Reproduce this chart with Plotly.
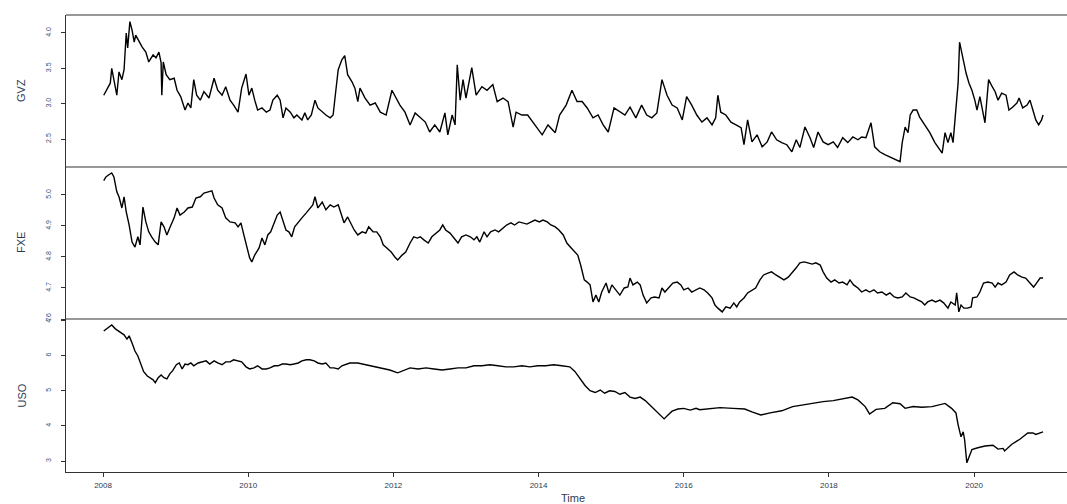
import plotly.graph_objects as go
from plotly.subplots import make_subplots

# ---------------- data ----------------
gvz_t = [2008.01, 2008.06, 2008.10, 2008.12, 2008.17, 2008.19, 2008.22, 2008.26, 2008.29, 2008.32,
         2008.34, 2008.37, 2008.40, 2008.43, 2008.45, 2008.50, 2008.54, 2008.59, 2008.63, 2008.69,
         2008.73, 2008.77, 2008.80, 2008.81, 2008.83, 2008.87, 2008.92, 2008.98, 2009.02, 2009.07,
         2009.13, 2009.17, 2009.21, 2009.25, 2009.29, 2009.34, 2009.39, 2009.46, 2009.53, 2009.58,
         2009.64, 2009.69, 2009.75, 2009.80, 2009.86, 2009.91, 2009.97, 2010.01, 2010.05, 2010.09,
         2010.13, 2010.19, 2010.25, 2010.30, 2010.34, 2010.40, 2010.44, 2010.48, 2010.52, 2010.58,
         2010.63, 2010.67, 2010.74, 2010.78, 2010.82, 2010.87, 2010.92, 2010.96, 2011.02, 2011.07,
         2011.13, 2011.17, 2011.20, 2011.24, 2011.29, 2011.33, 2011.37, 2011.43, 2011.47, 2011.51,
         2011.54, 2011.61, 2011.68, 2011.75, 2011.82, 2011.90, 2011.98, 2012.04, 2012.09, 2012.16,
         2012.23, 2012.30, 2012.37, 2012.44, 2012.50, 2012.57, 2012.64, 2012.71, 2012.75, 2012.81,
         2012.85, 2012.88, 2012.92, 2012.96, 2013.00, 2013.08, 2013.14, 2013.22, 2013.29, 2013.37,
         2013.43, 2013.51, 2013.58, 2013.65, 2013.69, 2013.77, 2013.85, 2013.95, 2014.05, 2014.13,
         2014.23, 2014.29, 2014.38, 2014.46, 2014.53, 2014.60, 2014.67, 2014.75, 2014.82, 2014.89,
         2014.96, 2015.04, 2015.12, 2015.19, 2015.26, 2015.34, 2015.42, 2015.49, 2015.56, 2015.63,
         2015.70, 2015.77, 2015.84, 2015.91, 2015.98, 2016.04, 2016.11, 2016.18, 2016.25, 2016.32,
         2016.39, 2016.44, 2016.47, 2016.51, 2016.58, 2016.65, 2016.72, 2016.79, 2016.83, 2016.88,
         2016.94, 2017.01, 2017.08, 2017.15, 2017.21, 2017.28, 2017.35, 2017.42, 2017.49, 2017.55,
         2017.60, 2017.67, 2017.74, 2017.79, 2017.85, 2017.92, 2017.99, 2018.06, 2018.12, 2018.19,
         2018.26, 2018.33, 2018.40, 2018.45, 2018.51, 2018.58, 2018.63, 2018.70, 2018.77, 2018.84,
         2018.91, 2018.98, 2019.01, 2019.05, 2019.09, 2019.12, 2019.16, 2019.21, 2019.25, 2019.32,
         2019.39, 2019.46, 2019.56, 2019.60, 2019.64, 2019.68, 2019.71, 2019.74, 2019.78, 2019.80,
         2019.85, 2019.89, 2019.93, 2019.97, 2020.01, 2020.04, 2020.08, 2020.12, 2020.15, 2020.18,
         2020.20, 2020.25, 2020.29, 2020.33, 2020.38, 2020.44, 2020.48, 2020.53, 2020.59, 2020.62,
         2020.67, 2020.73, 2020.77, 2020.81, 2020.85, 2020.89, 2020.93, 2020.95]
gvz_v = [3.12, 3.22, 3.29, 3.50, 3.22, 3.12, 3.45, 3.34, 3.48, 4.00,
         3.79, 4.16, 4.04, 3.87, 3.97, 3.87, 3.80, 3.73, 3.59, 3.69,
         3.65, 3.73, 3.58, 3.12, 3.59, 3.41, 3.34, 3.36, 3.19, 3.10,
         2.91, 3.01, 2.94, 3.34, 3.12, 3.05, 3.17, 3.08, 3.36, 3.19,
         3.12, 3.24, 3.05, 2.98, 2.88, 3.22, 3.42, 3.12, 3.22, 3.05,
         2.91, 2.94, 2.88, 2.91, 3.05, 3.12, 3.05, 2.80, 2.94, 2.88,
         2.80, 2.84, 2.77, 2.87, 2.77, 2.84, 3.05, 2.94, 2.88, 2.84,
         2.80, 2.84, 3.12, 3.48, 3.62, 3.68, 3.41, 3.31, 3.22, 3.03,
         3.22, 3.08, 2.98, 3.01, 2.88, 2.84, 3.19, 3.08, 2.98, 2.88,
         2.70, 2.87, 2.80, 2.74, 2.60, 2.70, 2.60, 2.87, 2.56, 2.84,
         2.70, 3.55, 3.05, 3.34, 3.08, 3.51, 3.12, 3.24, 3.19, 3.27,
         3.03, 3.08, 3.03, 2.67, 2.88, 2.84, 2.84, 2.70, 2.56, 2.70,
         2.59, 2.84, 2.98, 3.19, 3.03, 3.03, 2.94, 2.80, 2.84, 2.70,
         2.60, 2.94, 2.88, 2.84, 2.95, 2.80, 2.98, 2.84, 2.80, 2.87,
         3.34, 3.12, 2.98, 2.94, 2.77, 3.10, 2.98, 2.84, 2.74, 2.80,
         2.70, 2.80, 3.12, 2.88, 2.84, 2.74, 2.70, 2.66, 2.42, 2.77,
         2.46, 2.56, 2.39, 2.46, 2.60, 2.49, 2.45, 2.42, 2.32, 2.49,
         2.38, 2.67, 2.52, 2.38, 2.60, 2.46, 2.42, 2.46, 2.38, 2.52,
         2.45, 2.53, 2.49, 2.53, 2.52, 2.73, 2.39, 2.32, 2.28, 2.25,
         2.21, 2.18, 2.45, 2.67, 2.59, 2.84, 2.91, 2.91, 2.81, 2.70,
         2.59, 2.45, 2.30, 2.59, 2.45, 2.59, 2.45, 2.81, 3.29, 3.87,
         3.62, 3.43, 3.29, 3.19, 3.05, 2.91, 3.10, 2.91, 2.73, 3.10,
         3.34, 3.24, 3.17, 3.05, 3.15, 3.12, 2.91, 2.95, 3.01, 3.08,
         2.94, 2.98, 3.05, 2.91, 2.77, 2.70, 2.77, 2.84]

fxe_t = [2008.01, 2008.04, 2008.08, 2008.12, 2008.15, 2008.19, 2008.22, 2008.26, 2008.29, 2008.32,
         2008.36, 2008.40, 2008.44, 2008.48, 2008.51, 2008.55, 2008.59, 2008.63, 2008.67, 2008.72,
         2008.76, 2008.80, 2008.84, 2008.88, 2008.92, 2008.98, 2009.02, 2009.06, 2009.12, 2009.17,
         2009.23, 2009.28, 2009.34, 2009.39, 2009.45, 2009.50, 2009.53, 2009.58, 2009.64, 2009.69,
         2009.75, 2009.82, 2009.86, 2009.90, 2009.94, 2009.98, 2010.02, 2010.05, 2010.09, 2010.15,
         2010.19, 2010.23, 2010.27, 2010.31, 2010.36, 2010.40, 2010.44, 2010.48, 2010.52, 2010.56,
         2010.60, 2010.64, 2010.69, 2010.74, 2010.80, 2010.85, 2010.89, 2010.92, 2010.96, 2011.02,
         2011.07, 2011.13, 2011.18, 2011.24, 2011.28, 2011.32, 2011.37, 2011.42, 2011.46, 2011.51,
         2011.57, 2011.62, 2011.66, 2011.72, 2011.77, 2011.82, 2011.86, 2011.91, 2011.97, 2012.02,
         2012.06, 2012.12, 2012.17, 2012.23, 2012.28, 2012.33, 2012.37, 2012.42, 2012.48, 2012.53,
         2012.59, 2012.64, 2012.68, 2012.72, 2012.78, 2012.83, 2012.89, 2012.94, 2013.00, 2013.06,
         2013.11, 2013.15, 2013.19, 2013.25, 2013.29, 2013.34, 2013.40, 2013.45, 2013.51, 2013.56,
         2013.62, 2013.67, 2013.73, 2013.79, 2013.84, 2013.90, 2013.95, 2014.01, 2014.06, 2014.12,
         2014.17, 2014.23, 2014.28, 2014.34, 2014.39, 2014.45, 2014.50, 2014.54, 2014.58, 2014.63,
         2014.67, 2014.71, 2014.75, 2014.79, 2014.83, 2014.87, 2014.93, 2014.97, 2015.01, 2015.07,
         2015.12, 2015.18, 2015.23, 2015.26, 2015.30, 2015.36, 2015.40, 2015.44, 2015.49, 2015.55,
         2015.60, 2015.66, 2015.70, 2015.74, 2015.80, 2015.85, 2015.91, 2015.96, 2016.00, 2016.06,
         2016.11, 2016.17, 2016.22, 2016.28, 2016.33, 2016.39, 2016.43, 2016.47, 2016.53, 2016.58,
         2016.64, 2016.69, 2016.73, 2016.77, 2016.83, 2016.88, 2016.94, 2016.99, 2017.05, 2017.10,
         2017.16, 2017.21, 2017.27, 2017.33, 2017.38, 2017.44, 2017.49, 2017.55, 2017.60, 2017.66,
         2017.71, 2017.77, 2017.82, 2017.88, 2017.92, 2017.97, 2018.03, 2018.08, 2018.14, 2018.19,
         2018.25, 2018.29, 2018.34, 2018.40, 2018.45, 2018.51, 2018.56, 2018.62, 2018.67, 2018.73,
         2018.79, 2018.84, 2018.90, 2018.95, 2019.01, 2019.06, 2019.12, 2019.17, 2019.23, 2019.28,
         2019.32, 2019.36, 2019.42, 2019.47, 2019.53, 2019.58, 2019.64, 2019.68, 2019.74, 2019.76,
         2019.79, 2019.82, 2019.86, 2019.91, 2019.96, 2019.98, 2020.04, 2020.08, 2020.13, 2020.19,
         2020.25, 2020.29, 2020.33, 2020.38, 2020.44, 2020.49, 2020.55, 2020.60, 2020.66, 2020.71,
         2020.77, 2020.82, 2020.87, 2020.91, 2020.95]
fxe_v = [5.046, 5.058, 5.065, 5.071, 5.058, 5.010, 4.994, 4.958, 4.994, 4.945,
         4.903, 4.848, 4.832, 4.865, 4.839, 4.961, 4.913, 4.881, 4.865, 4.848,
         4.839, 4.913, 4.897, 4.871, 4.894, 4.926, 4.958, 4.935, 4.945, 4.958,
         4.961, 4.990, 4.994, 5.006, 5.010, 5.013, 4.990, 4.968, 4.958, 4.926,
         4.913, 4.910, 4.897, 4.910, 4.871, 4.829, 4.797, 4.784, 4.806, 4.829,
         4.861, 4.839, 4.871, 4.881, 4.910, 4.935, 4.945, 4.919, 4.887, 4.881,
         4.865, 4.897, 4.913, 4.926, 4.942, 4.958, 4.968, 4.994, 4.958, 4.977,
         4.952, 4.968, 4.961, 4.968, 4.942, 4.910, 4.929, 4.903, 4.887, 4.871,
         4.881, 4.877, 4.897, 4.881, 4.881, 4.865, 4.839, 4.829, 4.816, 4.800,
         4.790, 4.806, 4.816, 4.845, 4.865, 4.861, 4.865, 4.855, 4.845, 4.865,
         4.877, 4.887, 4.903, 4.887, 4.877, 4.861, 4.845, 4.865, 4.871, 4.865,
         4.855, 4.865, 4.848, 4.881, 4.865, 4.881, 4.887, 4.881, 4.894, 4.903,
         4.910, 4.903, 4.913, 4.910, 4.906, 4.913, 4.919, 4.913, 4.919, 4.913,
         4.903, 4.897, 4.887, 4.871, 4.845, 4.829, 4.816, 4.806, 4.774, 4.726,
         4.719, 4.710, 4.655, 4.677, 4.655, 4.687, 4.716, 4.684, 4.710, 4.694,
         4.677, 4.700, 4.703, 4.732, 4.710, 4.719, 4.710, 4.677, 4.652, 4.668,
         4.671, 4.668, 4.700, 4.687, 4.703, 4.716, 4.719, 4.710, 4.694, 4.700,
         4.687, 4.694, 4.700, 4.694, 4.684, 4.668, 4.645, 4.635, 4.623, 4.639,
         4.635, 4.652, 4.639, 4.655, 4.668, 4.684, 4.694, 4.700, 4.726, 4.742,
         4.748, 4.752, 4.742, 4.732, 4.726, 4.735, 4.748, 4.765, 4.781, 4.784,
         4.781, 4.777, 4.781, 4.774, 4.752, 4.732, 4.719, 4.726, 4.716, 4.719,
         4.710, 4.726, 4.710, 4.700, 4.687, 4.694, 4.687, 4.694, 4.684, 4.687,
         4.677, 4.684, 4.671, 4.668, 4.671, 4.684, 4.671, 4.668, 4.661, 4.655,
         4.645, 4.655, 4.661, 4.655, 4.661, 4.652, 4.635, 4.655, 4.645, 4.684,
         4.623, 4.645, 4.635, 4.635, 4.639, 4.668, 4.671, 4.687, 4.716, 4.719,
         4.716, 4.703, 4.716, 4.710, 4.719, 4.742, 4.752, 4.742, 4.735, 4.732,
         4.716, 4.703, 4.719, 4.732, 4.732]

uso_t = [2008.01, 2008.06, 2008.10, 2008.12, 2008.17, 2008.21, 2008.25, 2008.29, 2008.33, 2008.36,
         2008.40, 2008.44, 2008.48, 2008.52, 2008.56, 2008.61, 2008.65, 2008.69, 2008.72, 2008.76,
         2008.80, 2008.84, 2008.88, 2008.92, 2008.96, 2009.01, 2009.05, 2009.09, 2009.13, 2009.17,
         2009.21, 2009.25, 2009.31, 2009.36, 2009.42, 2009.47, 2009.53, 2009.58, 2009.64, 2009.69,
         2009.75, 2009.80, 2009.86, 2009.91, 2009.97, 2010.02, 2010.08, 2010.13, 2010.19, 2010.25,
         2010.30, 2010.36, 2010.41, 2010.47, 2010.52, 2010.58, 2010.63, 2010.69, 2010.74, 2010.80,
         2010.85, 2010.91, 2010.96, 2011.02, 2011.07, 2011.13, 2011.18, 2011.24, 2011.29, 2011.35,
         2011.40, 2011.51, 2011.62, 2011.73, 2011.84, 2011.95, 2012.06, 2012.15, 2012.23, 2012.34,
         2012.45, 2012.56, 2012.67, 2012.78, 2012.89, 2013.00, 2013.11, 2013.22, 2013.33, 2013.44,
         2013.55, 2013.66, 2013.77, 2013.88, 2013.99, 2014.10, 2014.21, 2014.32, 2014.43, 2014.50,
         2014.57, 2014.64, 2014.71, 2014.78, 2014.85, 2014.91, 2014.98, 2015.05, 2015.12, 2015.19,
         2015.26, 2015.33, 2015.40, 2015.47, 2015.53, 2015.60, 2015.67, 2015.73, 2015.78, 2015.84,
         2015.92, 2016.00, 2016.09, 2016.17, 2016.22, 2016.36, 2016.50, 2016.68, 2016.84, 2016.94,
         2017.06, 2017.19, 2017.35, 2017.50, 2017.64, 2017.78, 2017.92, 2018.06, 2018.22, 2018.32,
         2018.40, 2018.50, 2018.56, 2018.65, 2018.77, 2018.88, 2018.98, 2019.05, 2019.16, 2019.28,
         2019.42, 2019.60, 2019.69, 2019.75, 2019.78, 2019.82, 2019.85, 2019.87, 2019.90, 2019.93,
         2019.97, 2020.05, 2020.15, 2020.26, 2020.33, 2020.40, 2020.42, 2020.52, 2020.63, 2020.74,
         2020.81, 2020.85, 2020.95]
uso_v = [6.70, 6.79, 6.84, 6.87, 6.76, 6.70, 6.65, 6.59, 6.47, 6.56,
         6.36, 6.13, 5.99, 5.74, 5.54, 5.42, 5.37, 5.31, 5.23, 5.37,
         5.45, 5.37, 5.34, 5.48, 5.57, 5.74, 5.79, 5.62, 5.76, 5.74,
         5.79, 5.71, 5.79, 5.82, 5.85, 5.76, 5.85, 5.79, 5.74, 5.82,
         5.82, 5.88, 5.85, 5.82, 5.68, 5.62, 5.65, 5.71, 5.62, 5.62,
         5.65, 5.71, 5.71, 5.76, 5.76, 5.74, 5.76, 5.79, 5.85, 5.88,
         5.88, 5.85, 5.79, 5.76, 5.79, 5.65, 5.65, 5.62, 5.71, 5.76,
         5.79, 5.79, 5.74, 5.71, 5.65, 5.59, 5.51, 5.59, 5.65, 5.62,
         5.65, 5.62, 5.59, 5.62, 5.65, 5.65, 5.71, 5.71, 5.74, 5.71,
         5.68, 5.68, 5.71, 5.68, 5.71, 5.71, 5.74, 5.71, 5.68, 5.55,
         5.35, 5.15, 5.00, 4.95, 5.02, 4.93, 5.00, 4.98, 4.90, 4.95,
         4.82, 4.78, 4.82, 4.72, 4.60, 4.45, 4.30, 4.20, 4.30, 4.42,
         4.48, 4.50, 4.45, 4.50, 4.46, 4.50, 4.52, 4.50, 4.48, 4.40,
         4.31, 4.37, 4.43, 4.55, 4.60, 4.65, 4.69, 4.72, 4.78, 4.82,
         4.74, 4.55, 4.34, 4.47, 4.50, 4.66, 4.63, 4.50, 4.55, 4.53,
         4.55, 4.64, 4.50, 4.37, 4.03, 3.69, 3.83, 3.60, 2.95, 3.10,
         3.33, 3.38, 3.43, 3.45, 3.34, 3.36, 3.29, 3.48, 3.62, 3.80,
         3.80, 3.76, 3.83]

series_names = ["GVZ", "FXE", "USO"]
year_ticks = [2008, 2010, 2012, 2014, 2016, 2018, 2020]
gvz_ticks = [2.5, 3.0, 3.5, 4.0]
fxe_ticks = [4.6, 4.7, 4.8, 4.9, 5.0]
uso_ticks = [3, 4, 5, 6, 7]

# ---------------- figure ----------------
FONT = "Liberation Sans, Arial, sans-serif"
TXT = "#2e3a50"
AX = "#333333"

fig = make_subplots(rows=3, cols=1, shared_xaxes=True, vertical_spacing=0)
for i, (t, v) in enumerate([(gvz_t, gvz_v), (fxe_t, fxe_v), (uso_t, uso_v)]):
    fig.add_trace(go.Scatter(x=t, y=v, mode="lines", line=dict(color="black", width=1.4),
                             showlegend=False, hoverinfo="skip"), row=i + 1, col=1)

W, H = 1067, 504
ml, mt, mb = 66, 15, 32
ph = H - mt - mb
d1 = (472 - 167) / ph
d2 = (472 - 319) / ph

xr = [2007.49, 2021.28]
for ax in ["xaxis", "xaxis2", "xaxis3"]:
    fig.layout[ax].update(range=xr, showgrid=False, zeroline=False, showticklabels=False,
                          ticks="", showline=False)
fig.layout.xaxis3.update(showticklabels=True, tickvals=year_ticks,
                         ticktext=[str(y) for y in year_ticks], ticks="outside", ticklen=4,
                         tickcolor=AX, showline=True, linecolor=AX, linewidth=1,
                         ticklabelstandoff=1,
                         tickfont=dict(size=8, color=TXT, family=FONT))

yax_common = dict(showgrid=False, zeroline=False, ticks="outside", ticklen=4, tickcolor=AX,
                  showline=True, linecolor=AX, linewidth=1, tickangle=-90,
                  ticklabelstandoff=7,
                  tickfont=dict(size=7, color="#3d4f78", family=FONT))
fig.layout.yaxis.update(domain=[d1, 1], range=[2.105, 4.254], tickvals=gvz_ticks,
                        ticktext=["%.1f" % v for v in gvz_ticks], **yax_common)
fig.layout.yaxis2.update(domain=[d2, d1], range=[4.6, 5.09], tickvals=fxe_ticks,
                         ticktext=["%.1f" % v for v in fxe_ticks], **yax_common)
fig.layout.yaxis3.update(domain=[0, d2], range=[2.69, 7.04], tickvals=uso_ticks,
                         ticktext=[str(v) for v in uso_ticks], **yax_common)

# y-axis titles as rotated annotations at fixed pixel offsets
for name, (lo, hi) in zip(series_names, [(d1, 1), (d2, d1), (0, d2)]):
    fig.add_annotation(text=name, xref="paper", yref="paper", x=0, y=(lo + hi) / 2,
                       xanchor="center", yanchor="middle", xshift=-45, textangle=-90,
                       showarrow=False, font=dict(size=11, color=TXT, family=FONT))

# panel borders (top + separators)
for yv in [1, d1, d2]:
    fig.add_shape(type="line", xref="paper", yref="paper", x0=0, x1=1, y0=yv, y1=yv,
                  line=dict(color=AX, width=1.2))

fig.add_annotation(text="Time", xref="paper", yref="paper", x=(573 - ml) / (W - ml), y=0,
                   yanchor="top", yshift=-18, showarrow=False,
                   font=dict(size=11, color=TXT, family=FONT))

fig.update_layout(width=W, height=H, margin=dict(l=ml, r=0, t=mt, b=mb),
                  paper_bgcolor="white", plot_bgcolor="white")

fig.write_html("out.html")
